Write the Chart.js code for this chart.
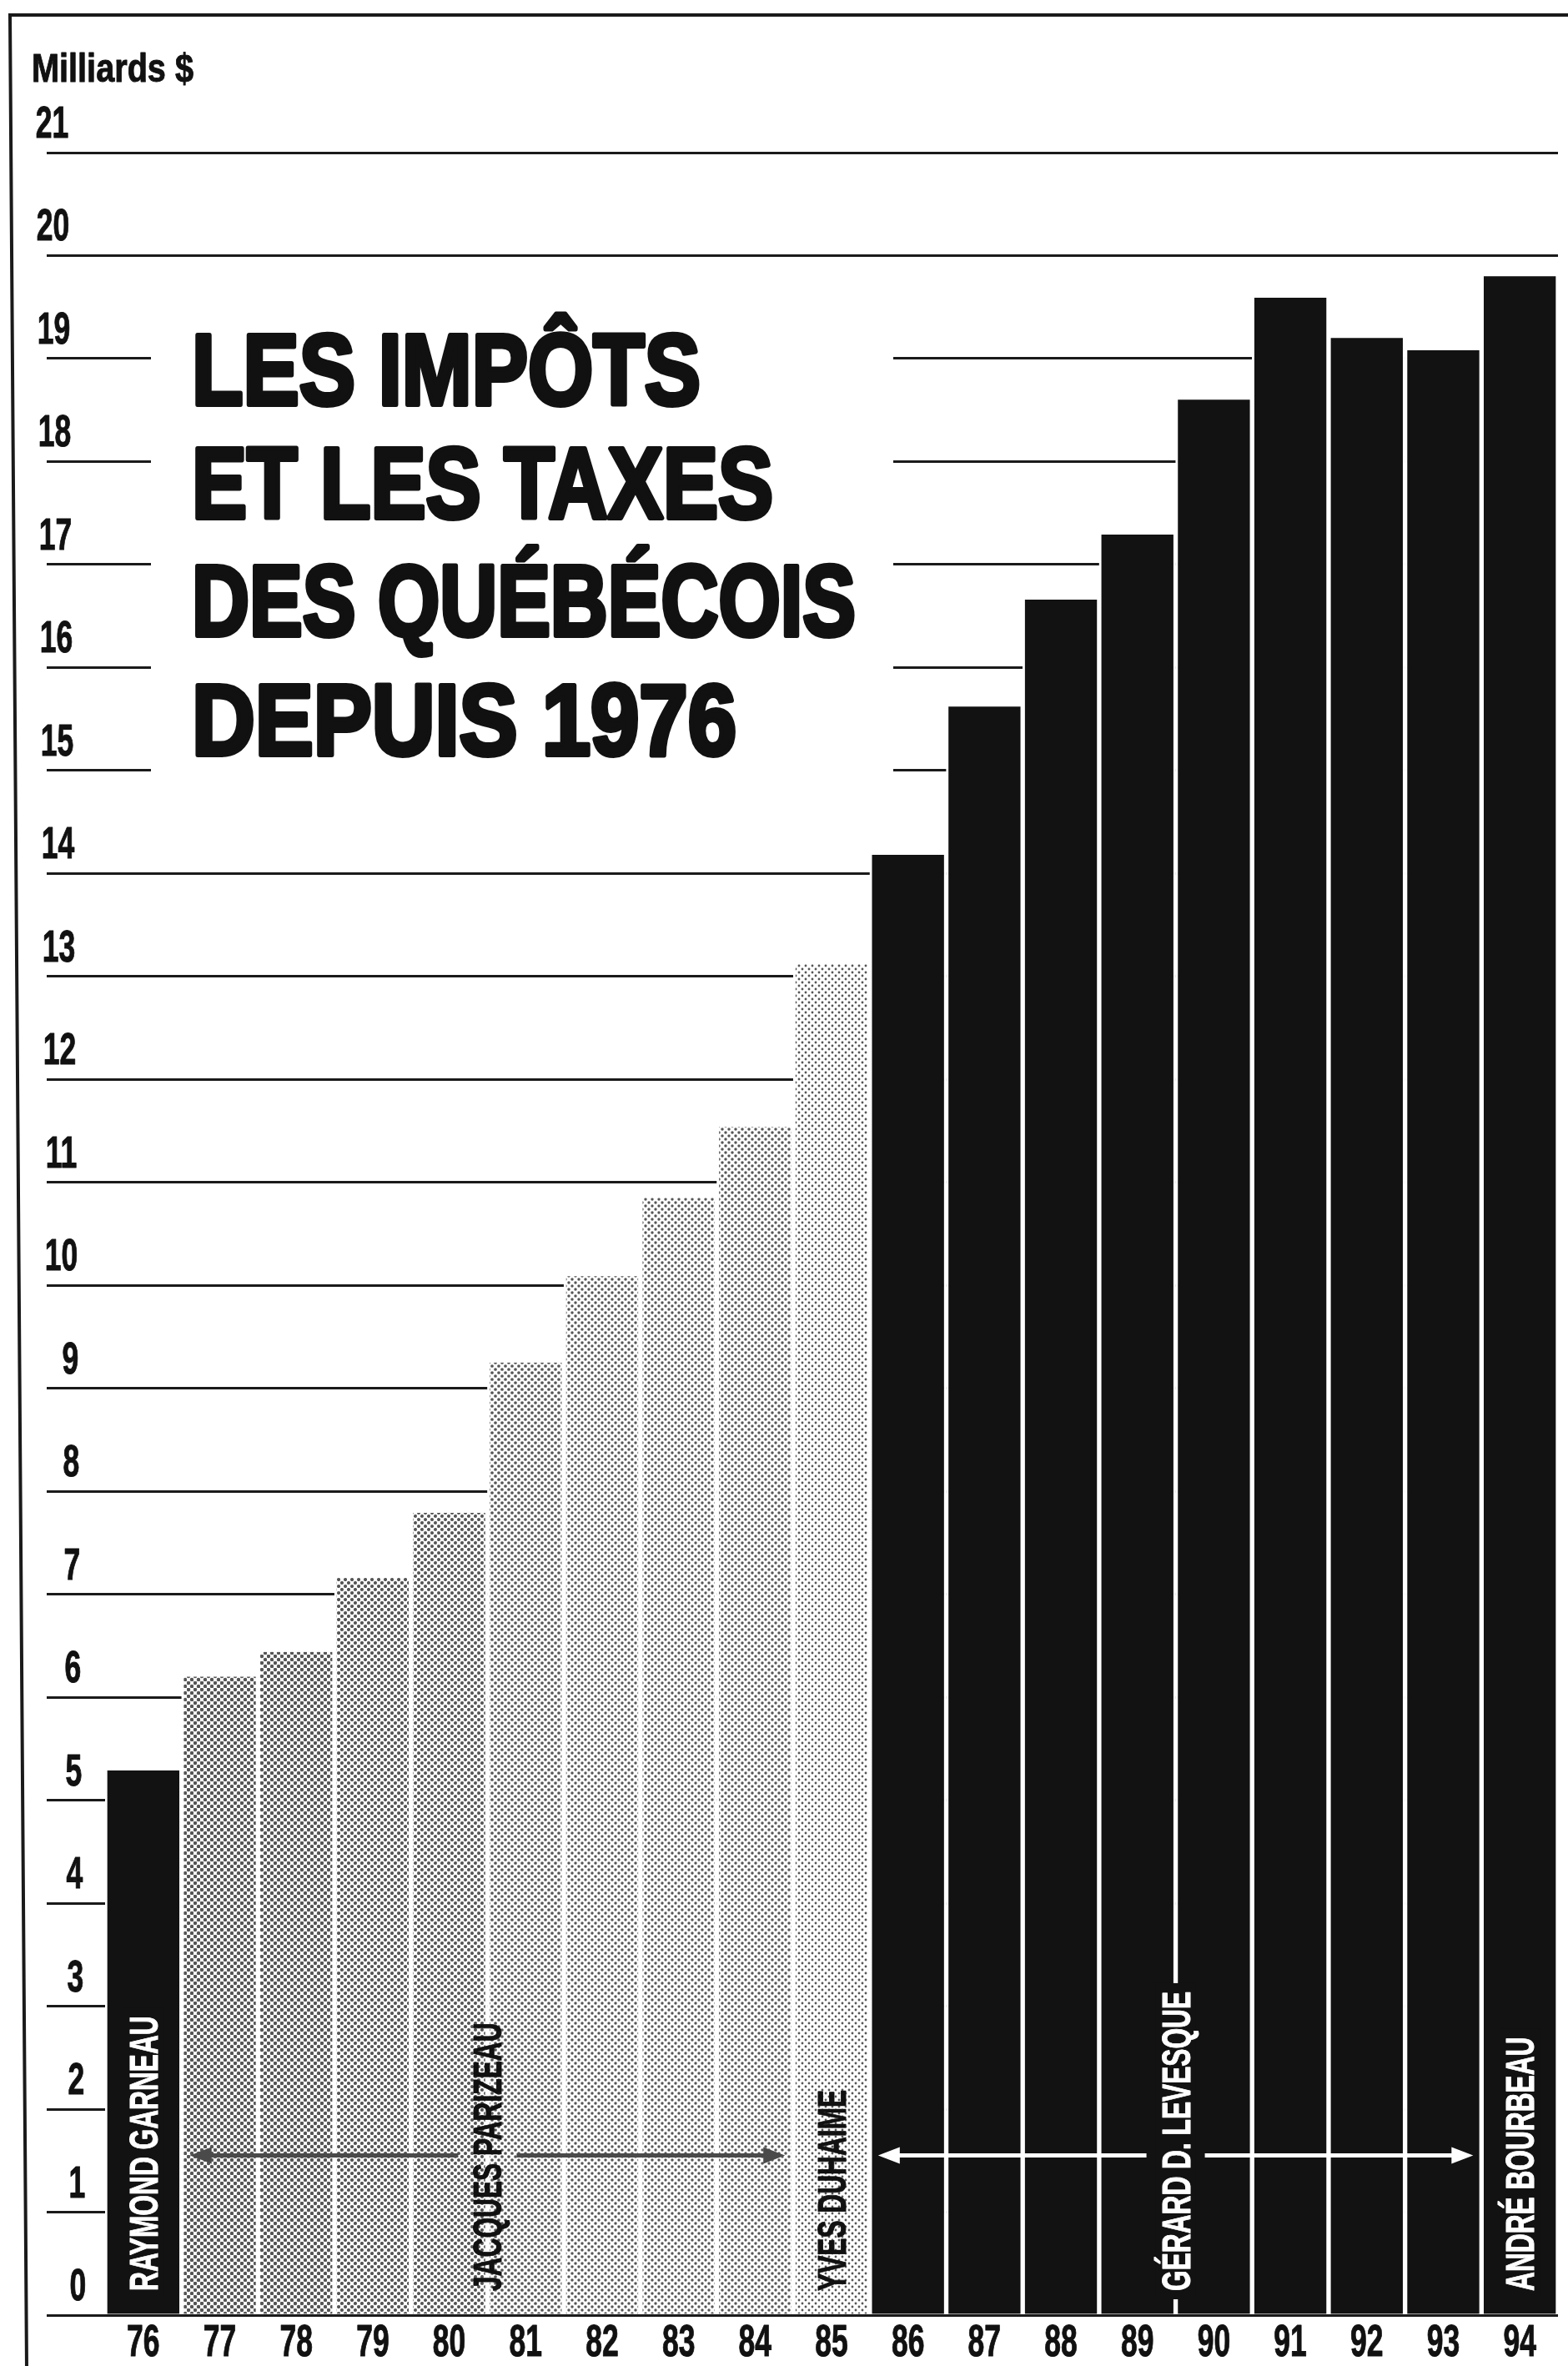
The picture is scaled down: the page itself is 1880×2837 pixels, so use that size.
<!DOCTYPE html>
<html>
<head>
<meta charset="utf-8">
<title>Les impôts et les taxes des Québécois depuis 1976</title>
<script src="https://cdn.jsdelivr.net/npm/chart.js@4.4.1/dist/chart.umd.min.js"></script>
<style>
  html, body { margin: 0; padding: 0; background: #fff; }
  #wrap { position: relative; width: 1880px; height: 2837px; }
</style>
</head>
<body>
<div id="wrap"><canvas id="chart"></canvas></div>
<script>
// données (milliards $)
const annees = ['76', '77', '78', '79', '80', '81', '82', '83', '84', '85',
                '86', '87', '88', '89', '90', '91', '92', '93', '94'];
const impots = [5.29, 6.2, 6.44, 7.16, 7.79, 9.25, 10.09, 10.85, 11.54, 13.12,
                14.18, 15.62, 16.66, 17.29, 18.6, 19.59, 19.2, 19.08, 19.8];
const graduations = ['0', '1', '2', '3', '4', '5', '6', '7', '8', '9', '10',
                     '11', '12', '13', '14', '15', '16', '17', '18', '19', '20', '21'];
const uniteAxe = 'Milliards $';
const titre = ['LES IMPÔTS', 'ET LES TAXES', 'DES QUÉBÉCOIS', 'DEPUIS 1976'];

// ministres des Finances et leur mandat
const ministres = ['RAYMOND GARNEAU', 'JACQUES PARIZEAU', 'YVES DUHAIME', 'GÉRARD D. LEVESQUE', 'ANDRÉ BOURBEAU'];
const debutMandat = ['76', '77', '85', '86', '94'];
const finMandat = ['76', '84', '85', '93', '94'];

// styles
const POLICE = "'Liberation Sans', Arial, sans-serif";
const ETROIT = 0.67;            // écrasement horizontal (caractère condensé)
const NOIR = '#121212';
const couleurNoms = ['#fff', '#111', '#111', '#fff', '#fff'];
const couleurFleches = [null, '#4a4a4a', null, '#fff', null];
const largeurTitre = [610, 697, 796, 653];
const basesTitre = [485, 621, 762, 905];
// densité de la trame pour chaque barre (0 = noir plein)
const tons = [0, 0.5, 0.48, 0.42, 0.4, 0.34, 0.3, 0.28, 0.3, 0.2,
              0, 0, 0, 0, 0, 0, 0, 0, 0];

function trame(d) {
  const c = document.createElement('canvas');
  c.width = 8; c.height = 8;
  const g = c.getContext('2d');
  g.fillStyle = '#fff';
  g.fillRect(0, 0, 8, 8);
  g.fillStyle = '#555';
  const r = Math.sqrt(d * 64 / (2 * Math.PI));
  [[2, 2], [6, 6]].forEach(p => {
    g.beginPath();
    g.arc(p[0], p[1], r, 0, Math.PI * 2);
    g.fill();
  });
  return g.createPattern(c, 'repeat');
}

const ctx = document.getElementById('chart').getContext('2d');
const couleursBarres = tons.map(t => t === 0 ? NOIR : trame(t));

// texte condensé : écrasé horizontalement, un peu épaissi
function texte(c, txt, x, y, align, etroit, gras) {
  c.save();
  c.translate(x, y);
  c.scale(etroit, 1);
  c.textAlign = align;
  c.fillText(txt, 0, 0);
  if (gras) {
    c.lineWidth = gras;
    c.lineJoin = 'round';
    c.strokeStyle = c.fillStyle;
    c.strokeText(txt, 0, 0);
  }
  c.restore();
}

function fleche(c, xDepart, xPointe, yy, couleur) {
  const sens = xPointe > xDepart ? 1 : -1;
  c.strokeStyle = couleur;
  c.fillStyle = couleur;
  c.lineWidth = 5;
  c.beginPath();
  c.moveTo(xDepart, yy);
  c.lineTo(xPointe - sens * 18, yy);
  c.stroke();
  c.beginPath();
  c.moveTo(xPointe, yy);
  c.lineTo(xPointe - sens * 26, yy - 10);
  c.lineTo(xPointe - sens * 26, yy + 10);
  c.closePath();
  c.fill();
}

const decor = {
  id: 'decor',
  afterDatasetsDraw(chart) {
    const c = chart.ctx;
    const { x, y } = chart.scales;
    const pas = x.width / annees.length;
    c.save();
    c.font = 'bold 48px ' + POLICE;
    ministres.forEach((nom, i) => {
      const a = annees.indexOf(debutMandat[i]);
      const b = annees.indexOf(finMandat[i]);
      const cx = (x.getPixelForValue(a) + x.getPixelForValue(b)) / 2;
      const y0 = y.getPixelForValue(0) - 29;
      const w = c.measureText(nom).width * 0.66;
      if (couleurFleches[i]) {
        const ya = y.getPixelForValue(1.55);
        const gauche = x.getPixelForValue(a) - pas / 2;
        const droite = x.getPixelForValue(b) + pas / 2;
        fleche(c, cx - 35, gauche + 10, ya, couleurFleches[i]);
        fleche(c, cx + 35, droite - 10, ya, couleurFleches[i]);
      }
      if (couleurNoms[i] === '#fff') {
        c.fillStyle = NOIR;
        c.fillRect(cx - 24, y0 - w - 10, 48, w + 20);
      }
      c.save();
      c.translate(cx, y0);
      c.rotate(-Math.PI / 2);
      c.fillStyle = couleurNoms[i];
      c.textBaseline = 'alphabetic';
      texte(c, nom, 0, 17, 'left', 0.66, 1);
      c.restore();
    });
    c.restore();
  },
  afterDraw(chart) {
    const c = chart.ctx;
    const { x, y } = chart.scales;
    c.save();
    // cadre
    c.strokeStyle = '#1a1a1a';
    c.lineWidth = 4;
    c.beginPath();
    c.moveTo(1880, 18);
    c.lineTo(12, 18);
    c.lineTo(32, 2837);
    c.stroke();

    // graduations de l'axe vertical, au-dessus de chaque trait
    c.fillStyle = '#111';
    c.font = 'bold 53px ' + POLICE;
    c.textBaseline = 'alphabetic';
    y.ticks.forEach(t => {
      const py = y.getPixelForValue(t.value);
      const droite = 82 + (py - 146) * 21 / 2594;   // léger biais du scan
      texte(c, graduations[t.value], droite, py - 18, 'right', ETROIT, 1);
    });
    // années sous les barres
    annees.forEach((an, i) => {
      texte(c, an, x.getPixelForValue(i), chart.chartArea.bottom + 49, 'center', ETROIT, 1);
    });

    // unité
    c.font = 'bold 49px ' + POLICE;
    const eu = 194 / c.measureText(uniteAxe).width;
    texte(c, uniteAxe, 38, 98, 'left', eu, 1);

    // titre sur fond blanc
    c.fillStyle = '#fff';
    c.fillRect(181, 392, 890, 590);
    c.font = 'bold 121px ' + POLICE;
    c.fillStyle = '#111';
    titre.forEach((ligne, i) => {
      const e = largeurTitre[i] / c.measureText(ligne).width;
      texte(c, ligne, 230, basesTitre[i], 'left', e, 6);
    });
    c.restore();
  }
};

new Chart(ctx, {
  type: 'bar',
  data: {
    labels: annees,
    datasets: [{
      data: impots,
      backgroundColor: couleursBarres,
      borderColor: '#fff',
      borderWidth: { left: 3, right: 3, top: 0, bottom: 0 },
      barPercentage: 1,
      categoryPercentage: 1
    }]
  },
  options: {
    responsive: true,
    maintainAspectRatio: false,
    animation: false,
    events: [],
    layout: { padding: { top: 183, right: 12, bottom: 0, left: 0 } },
    plugins: { legend: { display: false }, title: { display: false }, tooltip: { enabled: false } },
    scales: {
      x: {
        grid: { display: false, drawTicks: false },
        border: { display: false },
        ticks: { display: false, autoSkip: false },
        afterFit: s => { s.height = 61; }
      },
      y: {
        min: 0,
        max: 21,
        grid: { color: '#1a1a1a', lineWidth: 3, drawTicks: true, tickLength: 70 },
        border: { display: false },
        ticks: { display: false, stepSize: 1, autoSkip: false },
        afterFit: s => { s.width = 126; }
      }
    }
  },
  plugins: [decor]
});
</script>
</body>
</html>
